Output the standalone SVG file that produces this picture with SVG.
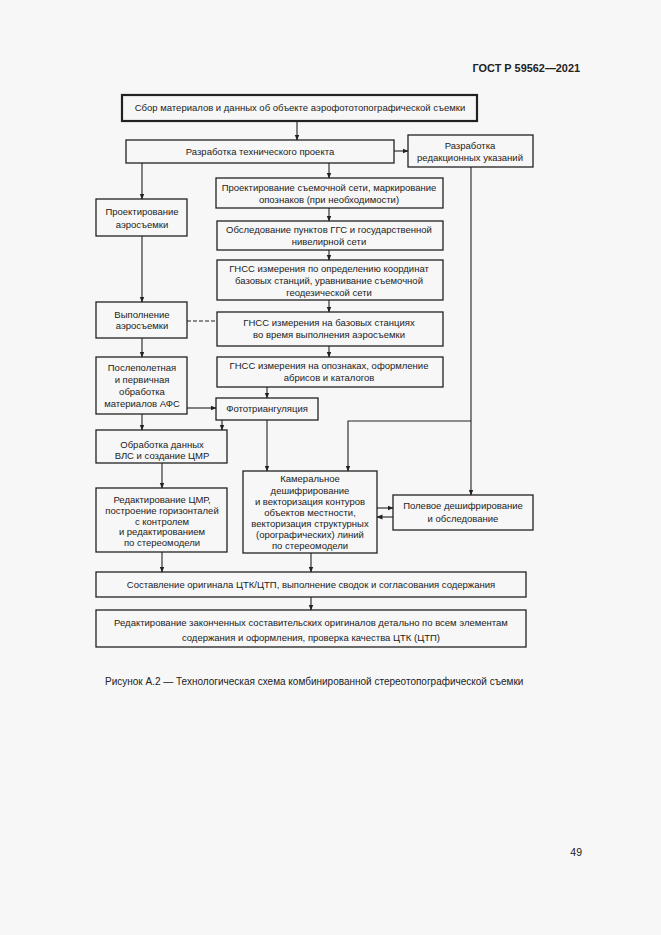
<svg xmlns="http://www.w3.org/2000/svg" width="661" height="935" viewBox="0 0 661 935">
<style>
.b{fill:none;stroke:#222;stroke-width:1.3}
.t{font-family:"Liberation Sans",Arial,sans-serif;font-size:9.5px;fill:#222;text-anchor:middle}
.c{fill:none;stroke:#222;stroke-width:1.1}
</style>
<defs>
<marker id="a" markerWidth="6" markerHeight="6" refX="5.5" refY="3" orient="auto" markerUnits="userSpaceOnUse">
<path d="M0,0.6 L6,3 L0,5.4 Z" fill="#222"/>
</marker>
</defs>
<rect width="661" height="935" fill="#f7f7f7"/>
<text x="580" y="72" style="font-family:'Liberation Sans',Arial,sans-serif;font-size:10.9px;font-weight:bold;fill:#222;text-anchor:end">ГОСТ Р 59562—2021</text>

<g id="n1"><rect x="122" y="95" width="355" height="26" fill="none" stroke="#222" stroke-width="2.2"/><text class="t" x="300" y="111">Сбор материалов и данных об объекте аэрофототопографической съемки</text></g>
<g id="n2"><rect class="b" x="126" y="140" width="268" height="23"/><text class="t" x="260" y="155">Разработка технического проекта</text></g>
<g id="n3"><rect class="b" x="408" y="135" width="125" height="32"/><text class="t" x="470" y="149">Разработка</text><text class="t" x="470" y="161">редакционных указаний</text></g>
<g id="n4"><rect class="b" x="216" y="178" width="227" height="30"/><text class="t" x="329" y="191">Проектирование съемочной сети, маркирование</text><text class="t" x="329" y="203">опознаков (при необходимости)</text></g>
<g id="n5"><rect class="b" x="217" y="221" width="226" height="29"/><text class="t" x="329" y="233">Обследование пунктов ГГС и государственной</text><text class="t" x="329" y="245">нивелирной сети</text></g>
<g id="n6"><rect class="b" x="217" y="260" width="226" height="40"/><text class="t" x="329" y="272">ГНСС измерения по определению координат</text><text class="t" x="329" y="284">базовых станций, уравнивание съемочной</text><text class="t" x="329" y="296">геодезической сети</text></g>
<g id="n7"><rect class="b" x="96" y="199" width="91" height="37"/><text class="t" x="142" y="215">Проектирование</text><text class="t" x="142" y="228">аэросъемки</text></g>
<g id="n8"><rect class="b" x="96" y="302" width="91" height="36"/><text class="t" x="142" y="318">Выполнение</text><text class="t" x="142" y="329">аэросъемки</text></g>
<g id="n9"><rect class="b" x="217" y="312" width="226" height="34"/><text class="t" x="329" y="326">ГНСС измерения на базовых станциях</text><text class="t" x="329" y="338">во время выполнения аэросъемки</text></g>
<g id="n10"><rect class="b" x="217" y="357" width="226" height="30"/><text class="t" x="329" y="369">ГНСС измерения на опознаках, оформление</text><text class="t" x="329" y="381">абрисов и каталогов</text></g>
<g id="n11"><rect class="b" x="96" y="357" width="91" height="57"/><text class="t" x="142" y="371">Послеполетная</text><text class="t" x="142" y="383">и первичная</text><text class="t" x="142" y="395">обработка</text><text class="t" x="142" y="407">материалов АФС</text></g>
<g id="n12"><rect class="b" x="216" y="398" width="102" height="22"/><text class="t" x="267" y="412">Фототриангуляция</text></g>
<g id="n13"><rect class="b" x="96" y="430" width="131" height="33"/><text class="t" x="162" y="448">Обработка данных</text><text class="t" x="162" y="459">ВЛС и создание ЦМР</text></g>
<g id="n14"><rect class="b" x="96" y="488" width="131" height="64"/><text class="t" x="162" y="503">Редактирование ЦМР,</text><text class="t" x="162" y="514">построение горизонталей</text><text class="t" x="162" y="525">с контролем</text><text class="t" x="162" y="535">и редактированием</text><text class="t" x="162" y="546">по стереомодели</text></g>
<g id="n15"><rect class="b" x="243" y="471" width="134" height="82"/><text class="t" x="310" y="482">Камеральное</text><text class="t" x="310" y="494">дешифрирование</text><text class="t" x="310" y="505">и векторизация контуров</text><text class="t" x="310" y="516">объектов местности,</text><text class="t" x="310" y="527">векторизация структурных</text><text class="t" x="310" y="538">(орографических) линий</text><text class="t" x="310" y="549">по стереомодели</text></g>
<g id="n16"><rect class="b" x="393" y="495" width="140" height="35"/><text class="t" x="463" y="509">Полевое дешифрирование</text><text class="t" x="463" y="522">и обследование</text></g>
<g id="n17"><rect class="b" x="96" y="572" width="430" height="25"/><text class="t" x="311" y="588">Составление оригинала ЦТК/ЦТП, выполнение сводок и согласования содержания</text></g>
<g id="n18"><rect class="b" x="96" y="610" width="430" height="37"/><text class="t" x="311" y="626">Редактирование законченных составительских оригиналов детально по всем элементам</text><text class="t" x="311" y="641">содержания и оформления, проверка качества ЦТК (ЦТП)</text></g>

<g id="connectors">
<path class="c" d="M297,121 V140" marker-end="url(#a)"/>
<path class="c" d="M394,151 H408" marker-end="url(#a)"/>
<path class="c" d="M142,163 V199" marker-end="url(#a)"/>
<path class="c" d="M329,163 V178" marker-end="url(#a)"/>
<path class="c" d="M471,167 V495" marker-end="url(#a)"/>
<path class="c" d="M471,421 H348 V471" marker-end="url(#a)"/>
<path class="c" d="M329,208 V221" marker-end="url(#a)"/>
<path class="c" d="M329,250 V260" marker-end="url(#a)"/>
<path class="c" d="M329,300 V312" marker-end="url(#a)"/>
<path class="c" d="M329,346 V357" marker-end="url(#a)"/>
<path class="c" d="M142,236 V302" marker-end="url(#a)"/>
<path class="c" d="M142,338 V357" marker-end="url(#a)"/>
<path class="c" d="M142,414 V430" marker-end="url(#a)"/>
<path class="c" d="M187,321 H217" stroke-dasharray="4,2"/>
<path class="c" d="M187,408 H216" marker-end="url(#a)"/>
<path class="c" d="M267,387 V398" marker-end="url(#a)"/>
<path class="c" d="M222,420 V430" marker-end="url(#a)"/>
<path class="c" d="M267,420 V471" marker-end="url(#a)"/>
<path class="c" d="M162,463 V488" marker-end="url(#a)"/>
<path class="c" d="M377,508 H393" marker-end="url(#a)"/>
<path class="c" d="M393,517 H377" marker-end="url(#a)"/>
<path class="c" d="M162,552 V572" marker-end="url(#a)"/>
<path class="c" d="M311,553 V572" marker-end="url(#a)"/>
<path class="c" d="M311,597 V610" marker-end="url(#a)"/>
</g>

<text x="105" y="685" style="font-family:'Liberation Sans',Arial,sans-serif;font-size:10px;fill:#222">Рисунок А.2 — Технологическая схема комбинированной стереотопографической съемки</text>
<text x="582" y="856" style="font-family:'Liberation Sans',Arial,sans-serif;font-size:10.5px;fill:#222;text-anchor:end">49</text>
</svg>
